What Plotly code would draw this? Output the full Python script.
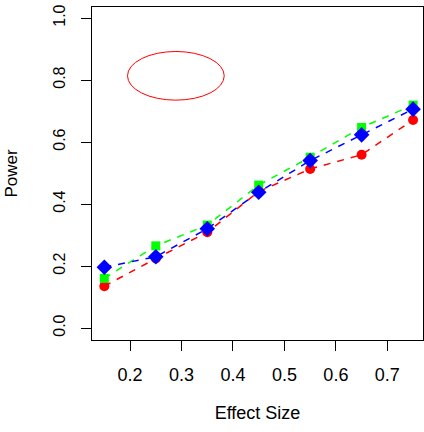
import plotly.graph_objects as go

effect_size = [0.15, 0.25, 0.35, 0.45, 0.55, 0.65, 0.75]
power_red = [0.135, 0.224, 0.309, 0.440, 0.513, 0.559, 0.671]
power_green = [0.160, 0.265, 0.332, 0.461, 0.551, 0.647, 0.719]
power_blue = [0.196, 0.230, 0.320, 0.438, 0.540, 0.623, 0.706]
x_ticks = [0.2, 0.3, 0.4, 0.5, 0.6, 0.7]
y_ticks = [0.0, 0.2, 0.4, 0.6, 0.8, 1.0]
ellipse_box = dict(x0=0.195, x1=0.383, y0=0.735, y1=0.892)

fig = go.Figure()
series = [
    (power_red, "#FF0000", "circle", 10),
    (power_green, "#00FF00", "square", 9),
    (power_blue, "#0000FF", "diamond", 12),
]
for vals, col, sym, sz in series:
    fig.add_trace(go.Scatter(
        x=effect_size, y=vals, mode="lines+markers",
        line=dict(color=col, width=1.5, dash="7px,7px"),
        marker=dict(color=col, symbol=sym, size=sz, line=dict(width=0)),
        showlegend=False,
    ))

fig.add_shape(type="circle", xref="x", yref="y", line=dict(color="#FF0000", width=1),
              **ellipse_box)

fig.update_layout(
    width=424, height=432,
    margin=dict(l=92, r=1, t=7, b=92),
    paper_bgcolor="white", plot_bgcolor="white",
    font=dict(family="Liberation Sans, Arial, sans-serif", color="black"),
    xaxis=dict(
        range=[0.126, 0.7693], tickvals=x_ticks, ticktext=[f"{v:.1f}" for v in x_ticks],
        showgrid=False, zeroline=False, showline=True, mirror=True,
        linecolor="black", linewidth=1, ticks="outside", ticklen=10, tickcolor="black",
        tickfont=dict(size=18), ticklabelstandoff=8,
        title=dict(text="Effect Size", font=dict(size=18), standoff=22),
    ),
    yaxis=dict(
        range=[-0.0387, 1.0355], tickvals=y_ticks, ticktext=[f"{v:.1f}" for v in y_ticks],
        showgrid=False, zeroline=False, showline=True, mirror=True,
        linecolor="black", linewidth=1, ticks="outside", ticklen=10, tickcolor="black",
        tickfont=dict(size=16), tickangle=-90, ticklabelstandoff=10,
        title=dict(text="Power", font=dict(size=17), standoff=28),
    ),
)

fig.write_html("out.html")
